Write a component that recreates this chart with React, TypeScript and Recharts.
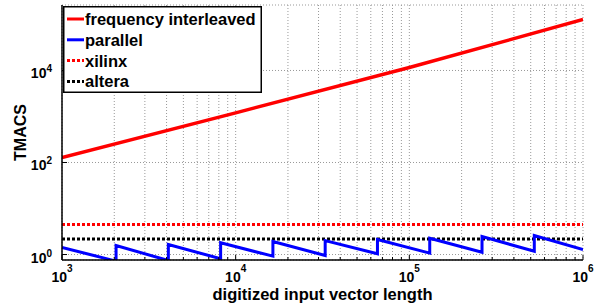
import { CartesianGrid, Legend, Line, LineChart, XAxis, YAxis } from "recharts";

const FONT = '"Liberation Sans", Arial, Helvetica, sans-serif';

// axis ticks
const X_DECADES = [1e3, 1e4, 1e5, 1e6];
const X_EXPONENTS = ["3", "4", "5", "6"];
const MINOR_STEPS = [2, 3, 4, 5, 6, 7, 8, 9];
const Y_TICKS = [1, 100, 10000];
const Y_EXPONENTS = ["0", "2", "4"];

// series (x = input vector length, tmacs)
const interleaved = [
  { n: 1e3, tmacs: 128 },
  { n: 1e4, tmacs: 1200 },
  { n: 1e5, tmacs: 11600 },
  { n: 1e6, tmacs: 128000 },
];

const parallel = [
  { n: 1000, tmacs: 1.42 },
  { n: 2048, tmacs: 0.72 },
  { n: 2048, tmacs: 1.57 },
  { n: 4096, tmacs: 0.74 },
  { n: 4096, tmacs: 1.65 },
  { n: 8192, tmacs: 0.81 },
  { n: 8192, tmacs: 1.8 },
  { n: 16384, tmacs: 0.92 },
  { n: 16384, tmacs: 1.92 },
  { n: 32768, tmacs: 0.95 },
  { n: 32768, tmacs: 2.01 },
  { n: 65536, tmacs: 1.04 },
  { n: 65536, tmacs: 2.12 },
  { n: 131072, tmacs: 1.07 },
  { n: 131072, tmacs: 2.26 },
  { n: 262144, tmacs: 1.12 },
  { n: 262144, tmacs: 2.46 },
  { n: 524288, tmacs: 1.18 },
  { n: 524288, tmacs: 2.59 },
  { n: 1000000, tmacs: 1.28 },
];

const xilinx = [
  { n: 1e3, tmacs: 4.5 },
  { n: 1e6, tmacs: 4.5 },
];

const altera = [
  { n: 1e3, tmacs: 2.17 },
  { n: 1e6, tmacs: 2.17 },
];

const LEGEND_ITEMS = [
  { name: "frequency interleaved", color: "#ff0000", dash: undefined },
  { name: "parallel", color: "#0000ff", dash: undefined },
  { name: "xilinx", color: "#ff0000", dash: "3 2" },
  { name: "altera", color: "#000000", dash: "3 2" },
];

const X_TICKS = X_DECADES.flatMap((d, i) =>
  i < X_DECADES.length - 1 ? [d, ...MINOR_STEPS.map((m) => d * m)] : [d]
);

const labelStyle = { fontFamily: FONT, fontWeight: "bold", fill: "#000" } as const;

function isMajor(v: number) {
  return X_DECADES.includes(v);
}

function BottomTick(props: any) {
  const { x, y, payload } = props;
  const v = payload.value;
  const i = X_DECADES.indexOf(v);
  return (
    <g>
      <line x1={x} x2={x} y1={y} y2={y - (isMajor(v) ? 5 : 3)} stroke="#000" />
      {i >= 0 && (
        <text x={x} y={y + 22} textAnchor="middle" fontSize={14} {...labelStyle}>
          10
          <tspan dy={-10} fontSize={10}>
            {X_EXPONENTS[i]}
          </tspan>
        </text>
      )}
    </g>
  );
}

function TopTick(props: any) {
  const { x, y, payload } = props;
  return <line x1={x} x2={x} y1={y} y2={y + (isMajor(payload.value) ? 5 : 3)} stroke="#000" />;
}

function LeftTick(props: any) {
  const { x, y, payload } = props;
  const i = Y_TICKS.indexOf(payload.value);
  return (
    <g>
      <line x1={x} x2={x + 5} y1={y} y2={y} stroke="#000" />
      <text x={x - 10} y={y + 8} textAnchor="end" fontSize={14} {...labelStyle}>
        10
        <tspan dy={-6} fontSize={10}>
          {Y_EXPONENTS[i]}
        </tspan>
      </text>
    </g>
  );
}

function RightTick(props: any) {
  const { x, y } = props;
  return <line x1={x} x2={x - 5} y1={y} y2={y} stroke="#000" />;
}

function LegendBox() {
  return (
    <svg width={199} height={87} style={{ display: "block" }}>
      <rect x={0.75} y={0.75} width={197.5} height={85.5} fill="#fff" stroke="#000" strokeWidth={1.5} />
      {LEGEND_ITEMS.map((item, i) => {
        const cy = 13 + i * 20.8;
        return (
          <g key={item.name}>
            <line
              x1={4}
              x2={21}
              y1={cy}
              y2={cy}
              stroke={item.color}
              strokeWidth={3}
              strokeDasharray={item.dash}
            />
            <text x={22} y={cy + 6} fontSize={16.5} {...labelStyle}>
              {item.name}
            </text>
          </g>
        );
      })}
    </svg>
  );
}

export default function App() {
  return (
    <div style={{ position: "absolute", left: 0, top: 0, background: "#fff" }}>
      <LineChart width={610} height={307} margin={{ top: 5, right: 27, bottom: 0, left: 0 }}>
        <CartesianGrid stroke="#999" strokeDasharray="1 2" />
        <XAxis
          dataKey="n"
          type="number"
          scale="log"
          domain={[1e3, 1e6]}
          ticks={X_TICKS}
          interval={0}
          allowDataOverflow
          height={47}
          tickSize={0}
          tickMargin={0}
          tick={<BottomTick />}
          stroke="#000"
          strokeWidth={1.5}
          label={{
            value: "digitized input vector length",
            position: "insideBottom",
            offset: 7,
            style: { ...labelStyle, fontSize: 16.5 },
          }}
        />
        <XAxis
          xAxisId="top"
          orientation="top"
          dataKey="n"
          type="number"
          scale="log"
          domain={[1e3, 1e6]}
          ticks={X_TICKS}
          interval={0}
          allowDataOverflow
          height={0}
          tickSize={0}
          tickMargin={0}
          tick={<TopTick />}
          stroke="#000"
          strokeWidth={1.5}
        />
        <YAxis
          type="number"
          scale="log"
          domain={[0.76, 265000]}
          ticks={Y_TICKS}
          interval={0}
          allowDataOverflow
          width={62}
          tickSize={0}
          tickMargin={0}
          tick={<LeftTick />}
          stroke="#000"
          strokeWidth={1.5}
          label={{
            value: "TMACS",
            angle: -90,
            position: "insideLeft",
            offset: 20,
            style: { ...labelStyle, fontSize: 16, textAnchor: "middle" },
          }}
        />
        <YAxis
          yAxisId="right"
          orientation="right"
          type="number"
          scale="log"
          domain={[0.76, 265000]}
          ticks={Y_TICKS}
          interval={0}
          allowDataOverflow
          width={0}
          tickSize={0}
          tickMargin={0}
          tick={<RightTick />}
          stroke="#000"
          strokeWidth={1.5}
        />
        <Legend
          layout="vertical"
          align="center"
          verticalAlign="middle"
          wrapperStyle={{ top: 6, left: 63, width: 199, height: 87 }}
          content={() => <LegendBox />}
        />
        <Line
          data={xilinx}
          dataKey="tmacs"
          name="xilinx"
          stroke="#ff0000"
          strokeWidth={3}
          strokeDasharray="3 2"
          dot={false}
          activeDot={false}
          isAnimationActive={false}
        />
        <Line
          data={altera}
          dataKey="tmacs"
          name="altera"
          stroke="#000000"
          strokeWidth={3}
          strokeDasharray="3 2"
          dot={false}
          activeDot={false}
          isAnimationActive={false}
        />
        <Line
          data={parallel}
          dataKey="tmacs"
          name="parallel"
          stroke="#0000ff"
          strokeWidth={3}
          strokeLinejoin="miter"
          dot={false}
          activeDot={false}
          isAnimationActive={false}
        />
        <Line
          data={interleaved}
          dataKey="tmacs"
          name="frequency interleaved"
          stroke="#ff0000"
          strokeWidth={3.5}
          dot={false}
          activeDot={false}
          isAnimationActive={false}
        />
      </LineChart>
    </div>
  );
}
